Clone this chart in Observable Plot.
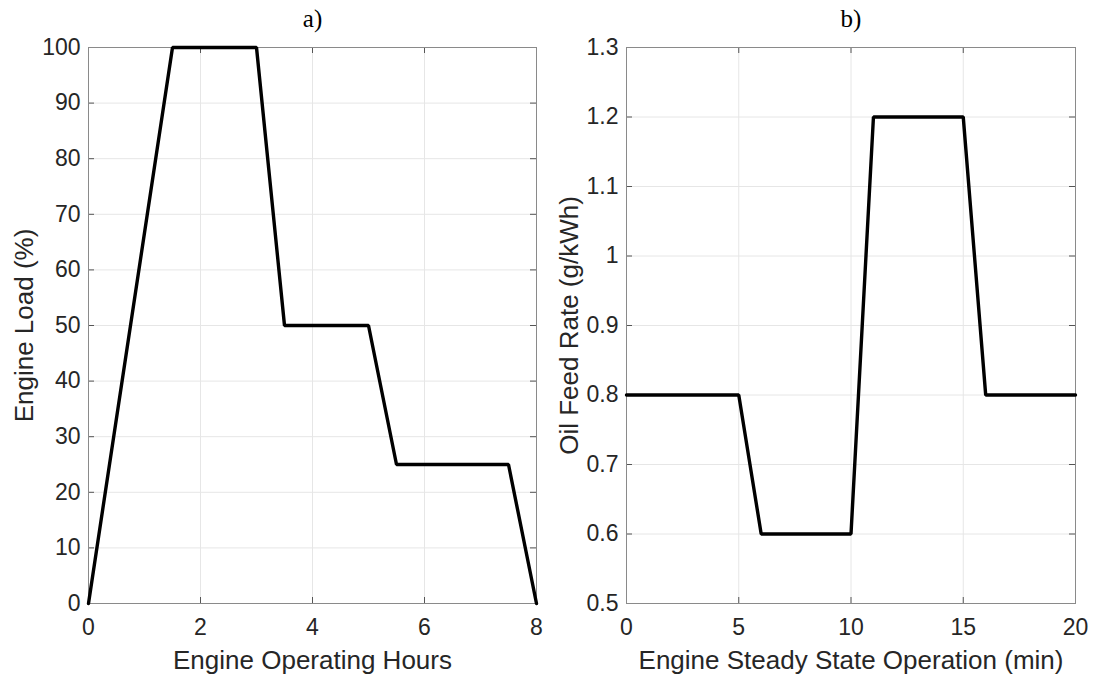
<!DOCTYPE html>
<html><head><meta charset="utf-8">
<script src="https://cdn.jsdelivr.net/npm/d3@7"></script>
<script src="https://cdn.jsdelivr.net/npm/@observablehq/plot@0.6"></script>
<style>
body{margin:0;background:#fff;width:1094px;height:675px;overflow:hidden;position:relative;}
.panel{position:absolute;top:0;}
</style></head><body>
<div id="a" class="panel" style="left:0px"></div>
<div id="b" class="panel" style="left:560px"></div>
<script>
// Panel a)
const hoursX = [0, 1.5, 3, 3.5, 5, 5.5, 7.5, 8];
const loadY = [0, 100, 100, 50, 50, 25, 25, 0];
const hoursTicks = [0, 2, 4, 6, 8];
const loadTicks = [0, 10, 20, 30, 40, 50, 60, 70, 80, 90, 100];
// Panel b)
const minutesX = [0, 5, 6, 10, 11, 15, 16, 20];
const oilY = [0.8, 0.8, 0.6, 0.6, 1.2, 1.2, 0.8, 0.8];
const minuteTicks = [0, 5, 10, 15, 20];
const oilTicks = [0.5, 0.6, 0.7, 0.8, 0.9, 1, 1.1, 1.2, 1.3];

const titles = ["a)", "b)"];
const xLabels = ["Engine Operating Hours", "Engine Steady State Operation (min)"];
const yLabels = ["Engine Load (%)", "Oil Feed Rate (g/kWh)"];

const FONT = "'Liberation Sans', Arial, Helvetica, sans-serif";
const TXT = "#262626";
const FRAME_H = 556;

function panel({xs, ys, xTicks, yTicks, xDomain, yDomain, title, xLabel, yLabel, width, ml, mr, yLabelDx}) {
  const data = xs.map((x, i) => ({x, y: ys[i]}));
  const fw = width - ml - mr;
  const tick = 6;
  return Plot.plot({
    width, height: 675,
    marginLeft: ml, marginRight: mr, marginTop: 47, marginBottom: 72,
    style: {fontFamily: FONT, fontSize: "23px", color: TXT, background: "#fff", overflow: "visible"},
    x: {domain: xDomain},
    y: {domain: yDomain},
    marks: [
      Plot.gridX(xTicks, {stroke: "#e6e6e6", strokeOpacity: 1, strokeWidth: 1}),
      Plot.gridY(yTicks, {stroke: "#e6e6e6", strokeOpacity: 1, strokeWidth: 1}),
      // inward tick marks on all four sides
      Plot.tickX(xTicks, {x: d => d, insetTop: FRAME_H - tick, stroke: "#555", strokeWidth: 1}),
      Plot.tickX(xTicks, {x: d => d, insetBottom: FRAME_H - tick, stroke: "#555", strokeWidth: 1}),
      Plot.tickY(yTicks, {y: d => d, insetRight: fw - tick, stroke: "#555", strokeWidth: 1}),
      Plot.tickY(yTicks, {y: d => d, insetLeft: fw - tick, stroke: "#555", strokeWidth: 1}),
      Plot.frame({stroke: "#8a8a8a", strokeWidth: 1}),
      Plot.axisX({ticks: xTicks, tickSize: 0, tickPadding: 15, tickFormat: d => String(d), label: null, fill: TXT}),
      Plot.axisY({ticks: yTicks, tickSize: 0, tickPadding: 8, tickFormat: d => String(d), label: null, fill: TXT}),
      Plot.line(data, {x: "x", y: "y", stroke: "#000", strokeWidth: 3.4, strokeLinejoin: "miter"}),
      Plot.text([xLabel], {text: d => d, frameAnchor: "bottom", dy: 57, fontSize: 26, fill: TXT, lineAnchor: "middle"}),
      Plot.text([yLabel], {text: d => d, frameAnchor: "left", textAnchor: "middle", lineAnchor: "middle", dx: yLabelDx, rotate: -90, fontSize: 26, fill: TXT}),
      Plot.text([title], {text: d => d, frameAnchor: "top", lineAnchor: "middle", dy: -29, fontSize: 25, fill: "#000", fontFamily: "'Liberation Serif', 'Times New Roman', serif"})
    ]
  });
}

document.getElementById("a").append(panel({
  xs: hoursX, ys: loadY, xTicks: hoursTicks, yTicks: loadTicks,
  xDomain: [0, 8], yDomain: [0, 100],
  title: titles[0], xLabel: xLabels[0], yLabel: yLabels[0],
  width: 560, ml: 88, mr: 24, yLabelDx: -64
}));
document.getElementById("b").append(panel({
  xs: minutesX, ys: oilY, xTicks: minuteTicks, yTicks: oilTicks,
  xDomain: [0, 20], yDomain: [0.5, 1.3],
  title: titles[1], xLabel: xLabels[1], yLabel: yLabels[1],
  width: 534, ml: 66, mr: 19, yLabelDx: -57
}));
</script>
</body></html>
